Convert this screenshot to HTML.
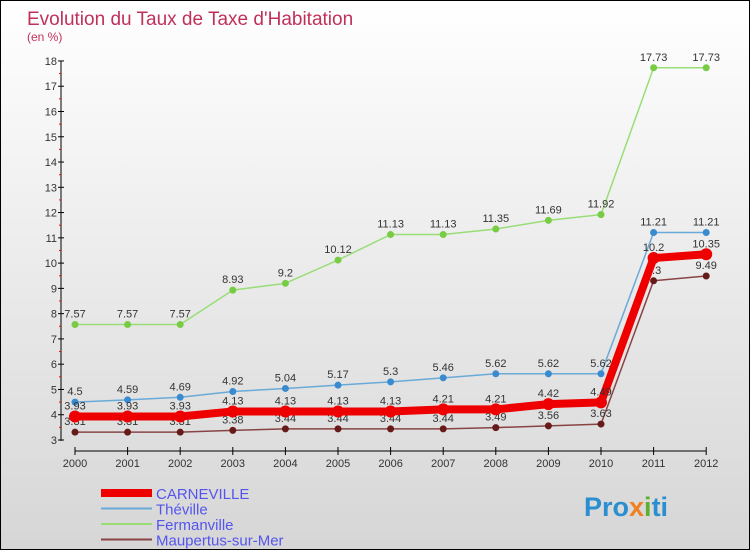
<!DOCTYPE html>
<html><head><meta charset="utf-8"><style>
body{margin:0}
#c{width:748px;height:548px;border:1px solid #000;background:linear-gradient(#fff,#d6d6d6);position:relative;font-family:"Liberation Sans",sans-serif;overflow:hidden}
</style></head><body>
<div id="c">
<svg id="s" width="748" height="548" xmlns="http://www.w3.org/2000/svg">
<text x="26" y="24" font-size="19" fill="#c0305a">Evolution du Taux de Taxe d'Habitation</text>
<text x="26" y="40" font-size="12" fill="#c0305a">(en %)</text>
<g id="axes"></g><g id="series"></g><g id="legend"></g>
<text x="583" y="515" font-size="27" font-weight="bold" fill="#2a8fd0">Pro<tspan fill="#f08020">x</tspan><tspan fill="#60b030">i</tspan>ti</text>
</svg>
</div>
<script>
const years=[2000,2001,2002,2003,2004,2005,2006,2007,2008,2009,2010,2011,2012];
const yTicks=[3,4,5,6,7,8,9,10,11,12,13,14,15,16,17,18];
const carneville=[3.93,3.93,3.93,4.13,4.13,4.13,4.13,4.21,4.21,4.42,4.49,10.2,10.35];
const theville=[4.5,4.59,4.69,4.92,5.04,5.17,5.3,5.46,5.62,5.62,5.62,11.21,11.21];
const fermanville=[7.57,7.57,7.57,8.93,9.2,10.12,11.13,11.13,11.35,11.69,11.92,17.73,17.73];
const maupertus=[3.31,3.31,3.31,3.38,3.44,3.44,3.44,3.44,3.49,3.56,3.63,9.3,9.49];
const names=["CARNEVILLE","Théville","Fermanville","Maupertus-sur-Mer"];
const NS="http://www.w3.org/2000/svg";
const xS=i=>74+i*52.6;
const yS=v=>439-(v-3)*25.27;
function mk(p,t,a){const e=document.createElementNS(NS,t);for(const k in a)e.setAttribute(k,a[k]);p.appendChild(e);return e;}
const ax=document.getElementById('axes');
let l=mk(ax,'line',{x1:60,y1:60,x2:60,y2:440,stroke:'#000'});

yTicks.forEach(v=>{
 mk(ax,'line',{x1:57,y1:yS(v),x2:63,y2:yS(v),stroke:'#000'});
 if(v<18)mk(ax,'line',{x1:58,y1:yS(v+0.5),x2:60,y2:yS(v+0.5),stroke:'#f00'});
 const t=mk(ax,'text',{x:56,y:yS(v)+4,'font-size':11,fill:'#333','text-anchor':'end'});t.textContent=v;
 
});
l=mk(ax,'line',{x1:xS(0),y1:450,x2:xS(12),y2:450,stroke:'#000'});

years.forEach((y,i)=>{
 mk(ax,'line',{x1:xS(i),y1:446,x2:xS(i),y2:454,stroke:'#000'});
 const t=mk(ax,'text',{x:xS(i),y:466,'font-size':11,fill:'#333','text-anchor':'middle'});t.textContent=y;
 
});
const sg=document.getElementById('series');
function series(data,color,w,r,dot,name,dy){
 const g=mk(sg,'g',{});
 
 mk(g,'polyline',{points:data.map((v,i)=>xS(i)+','+yS(v)).join(' '),fill:'none',stroke:color,'stroke-width':w,'stroke-linejoin':'round'});
 data.forEach((v,i)=>{
  const c=mk(g,'circle',{cx:xS(i),cy:yS(v),r:r,fill:dot});
  
  const t=mk(g,'text',{x:xS(i),y:yS(v)+dy,'font-size':11,fill:'#333','text-anchor':'middle'});t.textContent=v;
  
 });
}
series(fermanville,'#99dd77',1.5,3.5,'#77cc44','series-fermanville',-7);
series(theville,'#6aaad8',1.5,3.5,'#3a8ad0','series-theville',-7);
series(maupertus,'#884444',1.5,3.5,'#661a1a','series-maupertus',-7);
series(carneville,'#ee0000',8,6,'#ee0000','series-carneville',-7);
const lg=document.getElementById('legend');
const lc=['#ee0000','#6aaad8','#99dd77','#884444'],lw=[8,2,2,2];
names.forEach((n,i)=>{
 const g=mk(lg,'g',{});
 
 const y=492+i*15.5;
 mk(g,'line',{x1:100,y1:y,x2:151,y2:y,stroke:lc[i],'stroke-width':lw[i]});
 const t=mk(g,'text',{x:155,y:y+6,'font-size':15,fill:'#5555ee'});t.textContent=n;
});
</script>
</body></html>
